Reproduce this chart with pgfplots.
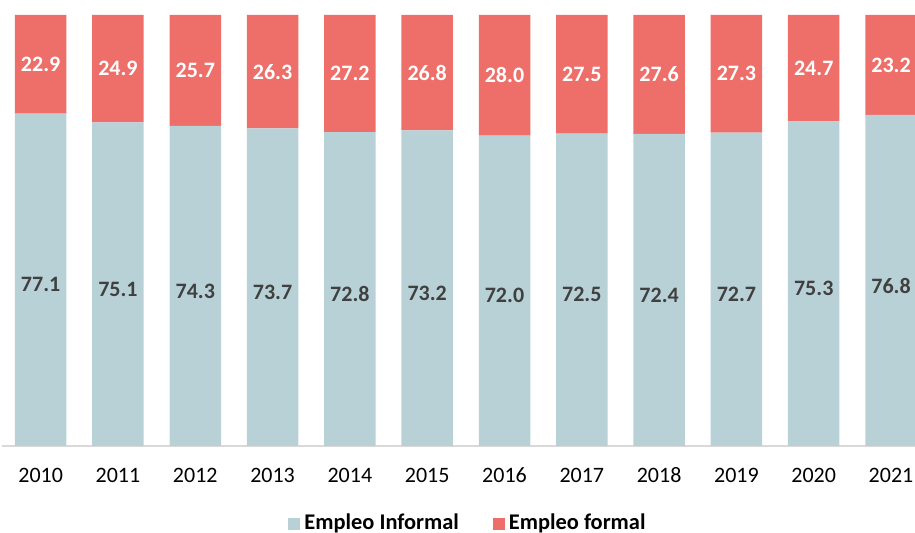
\documentclass[border=0pt]{standalone}
\usepackage{pgfplots}
\pgfplotsset{compat=1.18}
\usepackage{fontspec}
\setmainfont{Carlito}
\definecolor{informal}{HTML}{B8D1D7}
\definecolor{formal}{HTML}{EE6F6A}
\definecolor{lbl}{HTML}{404040}
\definecolor{base}{HTML}{D9D9D9}
\begin{document}
\begin{tikzpicture}
\useasboundingbox (-1pt,-43.5pt) rectangle (456.5pt,223pt);
\begin{axis}[
	at={(0,0)}, anchor=south west,
	scale only axis, width=456.5pt, height=215.5pt,
	ybar stacked, bar width=25.75pt,
	xmin=-0.5, xmax=11.31, ymin=0, ymax=100,
	xtick={0,...,11},
	xticklabels={2010,2011,2012,2013,2014,2015,2016,2017,2018,2019,2020,2021},
	ytick=\empty, hide y axis,
	axis x line*=bottom,
	x axis line style={-, draw=base, line width=0.8pt},
	major tick length=0pt,
	xticklabel style={font=\fontsize{11}{13}\selectfont, text=black, yshift=-7pt, text height=7.5pt, text depth=0pt},
	nodes near coords={\pgfmathprintnumber[fixed,fixed zerofill,precision=1,assume math mode=true]{\pgfplotspointmeta}},
	every node near coord/.append style={anchor=center, font=\fontsize{11}{13}\selectfont\bfseries},
	legend columns=2,
	legend style={at={(0.5115,-0.180)}, anchor=center, draw=none, fill=none,
		font=\fontsize{11.2}{13}\selectfont\bfseries,
		/tikz/every even column/.append style={column sep=15pt}},
	legend image code/.code={\fill[#1] (0pt,-3pt) rectangle (6pt,3pt);},
]
\addplot[fill=informal, draw=none, nodes near coords style={text=lbl, yshift=-2.5pt}] coordinates {
(0,77.1) (1,75.1) (2,74.3) (3,73.7) (4,72.8) (5,73.2) (6,72.0) (7,72.5) (8,72.4) (9,72.7) (10,75.3) (11,76.8)};
\addplot[fill=formal, draw=none, nodes near coords style={text=white}] coordinates {
(0,22.9) (1,24.9) (2,25.7) (3,26.3) (4,27.2) (5,26.8) (6,28.0) (7,27.5) (8,27.6) (9,27.3) (10,24.7) (11,23.2)};
\legend{Empleo Informal, Empleo formal}
\end{axis}
\end{tikzpicture}
\end{document}
